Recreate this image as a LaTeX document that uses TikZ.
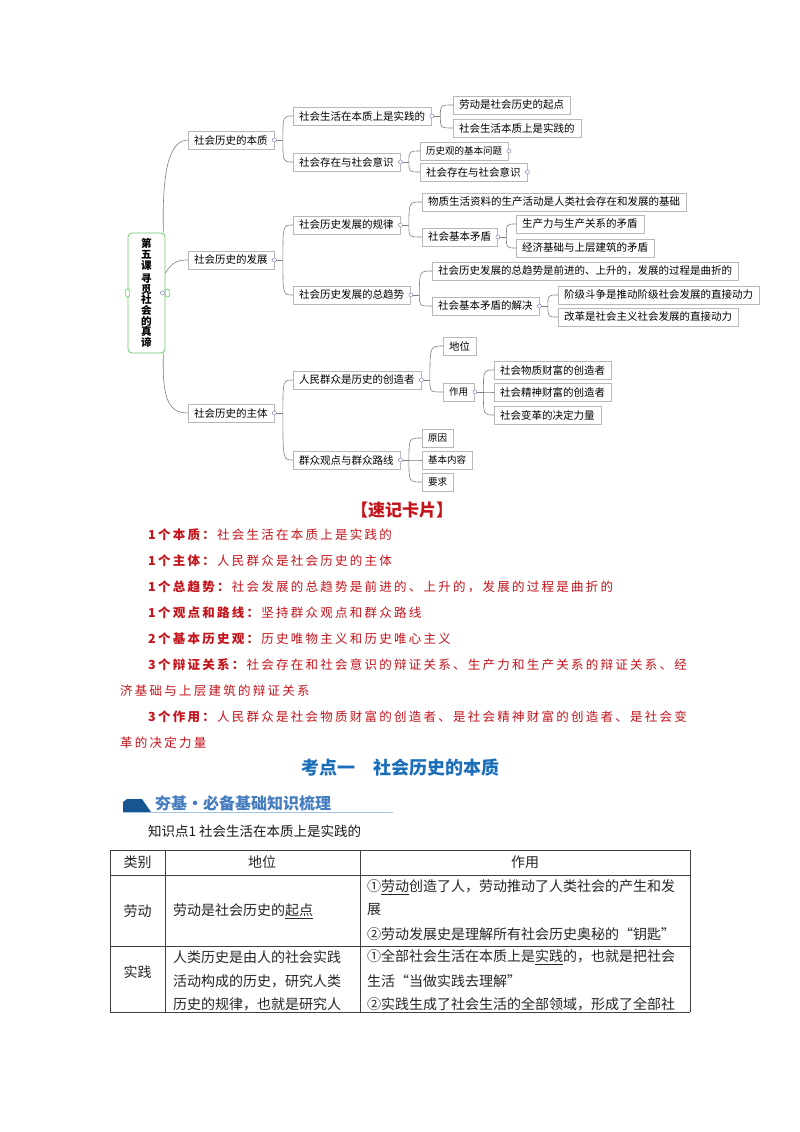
\documentclass[tikz,border=0pt]{standalone}
\usepackage{fontspec}
\setmainfont{Noto Sans CJK SC}
\newfontfamily\cardfont{Noto Sans CJK SC}[LetterSpace=18]
\usetikzlibrary{calc}
\definecolor{cardred}{RGB}{196,20,28}
\definecolor{headblue}{RGB}{28,110,185}
\definecolor{banblue}{RGB}{70,125,190}
\definecolor{bandark}{RGB}{22,85,145}
\definecolor{banline}{RGB}{160,195,225}
\definecolor{rootgreen}{RGB}{110,200,110}
\definecolor{knobc}{RGB}{130,140,190}
\tikzset{
  mm/.style={draw=black!28, fill=white, inner xsep=6pt, inner ysep=2pt, minimum height=18pt, anchor=west, font=\fontsize{10.5}{12}\selectfont, text=black},
  mms/.style={mm, font=\fontsize{9.5}{11}\selectfont},
  link/.style={draw=black!50, line width=0.6pt},
  knob/.style={circle, draw=knobc, fill=white, inner sep=0pt, minimum size=4pt, line width=0.5pt},
  rootbox/.style={draw=rootgreen, line width=0.8pt, fill=white, rounded corners=4pt, minimum width=37pt, minimum height=120pt, align=center, font=\fontsize{10.6}{10.6}\selectfont\bfseries},
  gpill/.style={draw=rootgreen, fill=white, rounded corners=1.5pt, minimum width=4pt, minimum height=8pt, inner sep=0pt, line width=0.6pt},
  card/.style={anchor=west, inner sep=0pt, text=cardred, font=\fontsize{12.5}{14}\cardfont},
  tabtxt/.style={anchor=west, inner sep=0pt, font=\fontsize{14}{16}\selectfont, text=black!85},
  tabhead/.style={anchor=center, inner sep=0pt, font=\fontsize{14}{16}\selectfont, text=black!85},
  tabline/.style={draw=black!75, line width=0.8pt}
}
\begin{document}
\begin{tikzpicture}[x=1pt,y=-1pt]
\useasboundingbox (0,0) rectangle (800,1132);
\fill[white] (0,0) rectangle (800,1132);

% ---------------- mind map ----------------
\node[rootbox] (root) at (146.5,293) {第\\五\\课\\[3pt]寻\\觅\\社\\会\\的\\真\\谛};
\node[gpill] (gl) at (root.west) {};
\node[gpill] (gr) at ($(root.east)+(2,0)$) {};
\node[knob] (kr) at ($(root.east)+(-3,0)$) {};

\node[mm] (n1) at (188,140) {社会历史的本质};
\node[mm] (n2) at (188,260) {社会历史的发展};
\node[mm] (n3) at (188,413) {社会历史的主体};

\node[mm] (n11) at (293,116) {社会生活在本质上是实践的};
\node[mm] (n12) at (293,162) {社会存在与社会意识};
\node[mm] (n21) at (293,225) {社会历史发展的规律};
\node[mm] (n22) at (293,295) {社会历史发展的总趋势};
\node[mm] (n31) at (293,380) {人民群众是历史的创造者};
\node[mm] (n32) at (293,460) {群众观点与群众路线};

\node[mm] (n111) at (453,105) {劳动是社会历史的起点};
\node[mm] (n112) at (453,128) {社会生活本质上是实践的};
\node[mms] (n121) at (420,151) {历史观的基本问题};
\node[mm] (n122) at (420,172) {社会存在与社会意识};
\node[mm] (n211) at (422,202) {物质生活资料的生产活动是人类社会存在和发展的基础};
\node[mm] (n212) at (422,237) {社会基本矛盾};
\node[mm] (n2121) at (516,224) {生产力与生产关系的矛盾};
\node[mm] (n2122) at (516,248) {经济基础与上层建筑的矛盾};
\node[mm] (n221) at (432,271) {社会历史发展的总趋势是前进的、上升的，发展的过程是曲折的};
\node[mm] (n222) at (432,306) {社会基本矛盾的解决};
\node[mm] (n2221) at (558,295) {阶级斗争是推动阶级社会发展的直接动力};
\node[mm] (n2222) at (558,317) {改革是社会主义社会发展的直接动力};
\node[mm] (n311) at (443,346) {地位};
\node[mms] (n312) at (443,392) {作用};
\node[mm] (n3121) at (494,370) {社会物质财富的创造者};
\node[mm] (n3122) at (494,392) {社会精神财富的创造者};
\node[mm] (n3123) at (494,415) {社会变革的决定力量};
\node[mms] (n321) at (422,438) {原因};
\node[mms] (n322) at (422,460) {基本内容};
\node[mms] (n323) at (422,482) {要求};

% root connectors
\draw[link] ($(root.north east)+(-2,0)$) .. controls (162,175) and (168,140) .. (n1.west);
\draw[link] ($(root.east)+(0,-20)$) .. controls (172,262) and (178,260) .. (n2.west);
\draw[link] ($(root.south east)+(-2,0)$) .. controls (162,398) and (168,413) .. (n3.west);

% bracket stubs and knobs
\foreach \p in {n1,n2,n3,n11,n12,n21,n212,n22,n222,n31,n312,n32} {
  \coordinate (s\p) at ($(\p.east)+(9,0)$);
  \draw[link] (\p.east) -- (s\p);
  \node[knob] (k\p) at ($(\p.east)+(0.5,0)$) {};
}
\foreach \p in {n121,n122} {
  \node[knob] (k\p) at ($(\p.east)+(0.5,0)$) {};
}
% bracket curves
\foreach \p/\c in {n1/n11,n1/n12,n2/n21,n2/n22,n3/n31,n3/n32,
  n11/n111,n11/n112,n12/n121,n12/n122,n21/n211,n21/n212,
  n212/n2121,n212/n2122,n22/n221,n22/n222,n222/n2221,n222/n2222,
  n31/n311,n31/n312,n312/n3121,n312/n3122,n312/n3123,
  n32/n321,n32/n322,n32/n323} {
  \draw[link] (s\p) .. controls (s\p |- \c.west) .. (\c.west);
}

% ---------------- card ----------------
\node[anchor=center, inner sep=0pt, text=cardred, font=\fontsize{17}{19}\selectfont\bfseries] (cardtitle) at (402,510) {【速记卡片】};
\node[card] (c1) at (148,535) {\textbf{1个本质：}社会生活在本质上是实践的};
\node[card] (c2) at (148,561) {\textbf{1个主体：}人民群众是社会历史的主体};
\node[card] (c3) at (148,587) {\textbf{1个总趋势：}社会发展的总趋势是前进的、上升的，发展的过程是曲折的};
\node[card] (c4) at (148,613) {\textbf{1个观点和路线：}坚持群众观点和群众路线};
\node[card] (c5) at (148,639) {\textbf{2个基本历史观：}历史唯物主义和历史唯心主义};
\node[card] (c6) at (148,665) {\textbf{3个辩证关系：}社会存在和社会意识的辩证关系、生产力和生产关系的辩证关系、经};
\node[card] (c7) at (120,691) {济基础与上层建筑的辩证关系};
\node[card] (c8) at (148,717) {\textbf{3个作用：}人民群众是社会物质财富的创造者、是社会精神财富的创造者、是社会变};
\node[card] (c9) at (120,743) {革的决定力量};

% ---------------- heading ----------------
\node[anchor=center, inner sep=0pt, text=headblue, font=\fontsize{18}{20}\selectfont\bfseries] (kd) at (400,768) {考点一\quad 社会历史的本质};

\fill[bandark] (123,812) -- (123,802) -- (127,799) -- (142,799) -- (151,812) -- cycle;
\draw[banline, line width=1.2pt] (123,812.5) -- (393,812.5);
\node[anchor=west, inner sep=0pt, text=banblue, font=\fontsize{16}{18}\selectfont\bfseries] (ban) at (155,803) {夯基·必备基础知识梳理};

\node[anchor=west, inner sep=0pt, text=black!90, font=\fontsize{13.5}{15}\selectfont] (zsd) at (148,831) {知识点1\ 社会生活在本质上是实践的};

% ---------------- table ----------------
\draw[tabline] (110,850) -- (690,850);
\draw[tabline] (110,875) -- (690,875);
\draw[tabline] (110,946) -- (690,946);
\draw[tabline] (110,1012) -- (690,1012);
\draw[tabline] (110,850) -- (110,1012);
\draw[tabline] (165,850) -- (165,1012);
\draw[tabline] (360,850) -- (360,1012);
\draw[tabline] (690,850) -- (690,1012);

\node[tabhead] (h1) at (137.5,862) {类别};
\node[tabhead] (h2) at (262,862) {地位};
\node[tabhead] (h3) at (525,862) {作用};

\node[tabhead] (r1) at (137.5,911) {劳动};
\node[tabtxt] (r1a) at (173,911) {劳动是社会历史的\underline{起点}};
\node[tabtxt] (r1b1) at (367,887) {①\underline{劳动}创造了人，劳动推动了人类社会的产生和发};
\node[tabtxt] (r1b2) at (367,910) {展};
\node[tabtxt] (r1b3) at (367,934) {②劳动发展史是理解所有社会历史奥秘的“钥匙”};

\node[tabhead] (r2) at (137.5,972) {实践};
\node[tabtxt] (r2a1) at (173,957) {人类历史是由人的社会实践};
\node[tabtxt] (r2a2) at (173,981) {活动构成的历史，研究人类};
\node[tabtxt] (r2a3) at (173,1004) {历史的规律，也就是研究人};
\node[tabtxt] (r2b1) at (367,957) {①全部社会生活在本质上是\underline{实践}的，也就是把社会};
\node[tabtxt] (r2b2) at (367,981) {生活“当做实践去理解”};
\node[tabtxt] (r2b3) at (367,1004) {②实践生成了社会生活的全部领域，形成了全部社};
\end{tikzpicture}
\end{document}
